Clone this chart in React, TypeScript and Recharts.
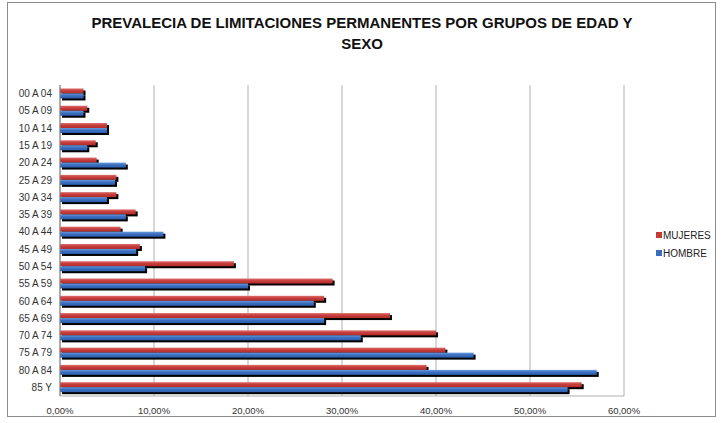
import { BarChart, Bar, XAxis, YAxis, CartesianGrid, Legend } from 'recharts'

const grupos = [
  '00 A 04', '05 A 09', '10 A 14', '15 A 19', '20 A 24', '25 A 29',
  '30 A 34', '35 A 39', '40 A 44', '45 A 49', '50 A 54', '55 A 59',
  '60 A 64', '65 A 69', '70 A 74', '75 A 79', '80 A 84', '85 Y',
]
const mujeres = [
  2.5, 2.9, 5.0, 3.8, 3.9, 6.0, 6.0, 8.05, 6.45, 8.5, 18.5, 29.0,
  28.1, 35.1, 40.0, 41.0, 39.0, 55.5,
]
const hombre = [
  2.5, 2.5, 5.0, 2.9, 7.0, 5.85, 5.0, 7.0, 11.0, 8.1, 9.05, 20.0,
  27.0, 28.1, 32.0, 44.0, 57.1, 54.0,
]
const ticks = [0, 10, 20, 30, 40, 50, 60]

const data = grupos.map((g, i) => ({ grupo: g, mujeres: mujeres[i], hombre: hombre[i] }))

const FONT = '"Liberation Sans", Arial, sans-serif'

const pct = (v: number) => v.toFixed(2).replace('.', ',') + '%'

// bar with a hard black drop shadow, like the old office charts
const ShadowBar = (grad: string) => (props: any) => {
  const { x, y, width, height } = props
  if (!width || width <= 0) return null
  return (
    <g>
      <rect x={x + 2} y={y + 2} width={width} height={height} fill="#000" />
      <rect x={x} y={y} width={width} height={height} fill={`url(#${grad})`} />
    </g>
  )
}

const LegendBox = () => (
  <div style={{ fontFamily: FONT, fontSize: 10, color: '#222' }}>
    {[
      { name: 'MUJERES', color: '#C43A38' },
      { name: 'HOMBRE', color: '#3A6DBE' },
    ].map(it => (
      <div key={it.name} style={{ display: 'flex', alignItems: 'center', height: 18 }}>
        <span style={{ display: 'inline-block', width: 6, height: 6, background: it.color, marginRight: 1 }} />
        <span>{it.name}</span>
      </div>
    ))}
  </div>
)

export default function App() {
  return (
    <div style={{ position: 'absolute', left: 0, top: 0, width: 724, height: 423, background: '#fff' }}>
      <div style={{
        position: 'absolute', left: 7, top: 2, width: 709, height: 415,
        border: '1px solid #8c8c8c', boxSizing: 'border-box',
      }} />
      <div style={{
        position: 'absolute', left: 0, top: 12, width: 724, textAlign: 'center',
        fontFamily: FONT, fontWeight: 'bold', fontSize: 15, color: '#111', lineHeight: '21px',
      }}>
        <div>PREVALECIA DE LIMITACIONES PERMANENTES POR GRUPOS DE EDAD Y</div>
        <div>SEXO</div>
      </div>
      <BarChart
        width={724}
        height={423}
        data={data}
        layout="vertical"
        margin={{ top: 85, right: 100, left: 0, bottom: 0 }}
        barCategoryGap="20%"
        barGap={0}
        style={{ position: 'absolute', left: 0, top: 0 }}
      >
        <defs>
          <linearGradient id="gRed" x1="0" y1="0" x2="0" y2="1">
            <stop offset="0%" stopColor="#DC706E" />
            <stop offset="45%" stopColor="#C63D3B" />
            <stop offset="100%" stopColor="#B42D2B" />
          </linearGradient>
          <linearGradient id="gBlue" x1="0" y1="0" x2="0" y2="1">
            <stop offset="0%" stopColor="#6A9BDF" />
            <stop offset="45%" stopColor="#3B6FC0" />
            <stop offset="100%" stopColor="#2C5DAA" />
          </linearGradient>
        </defs>
        <CartesianGrid horizontal={false} stroke="#b0b0b0" />
        <XAxis
          type="number"
          domain={[0, 60]}
          ticks={ticks}
          tickFormatter={pct}
          height={27}
          axisLine={{ stroke: '#b0b0b0' }}
          tickLine={false}
          tickSize={9}
          tick={{ fontFamily: FONT, fontSize: 9.5, fill: '#333' }}
        />
        <YAxis
          type="category"
          dataKey="grupo"
          width={60}
          axisLine={{ stroke: '#808080' }}
          tickLine={false}
          tickSize={6}
          tick={{ fontFamily: FONT, fontSize: 10, fill: '#333' }}
          interval={0}
        />
        <Legend
          layout="horizontal"
          align="center"
          verticalAlign="middle"
          content={<LegendBox />}
          wrapperStyle={{ left: 656, top: 226, width: 68 }}
        />
        <Bar dataKey="mujeres" name="MUJERES" fill="#C43A38" shape={ShadowBar('gRed')} isAnimationActive={false} />
        <Bar dataKey="hombre" name="HOMBRE" fill="#3A6DBE" shape={ShadowBar('gBlue')} isAnimationActive={false} />
      </BarChart>
    </div>
  )
}
